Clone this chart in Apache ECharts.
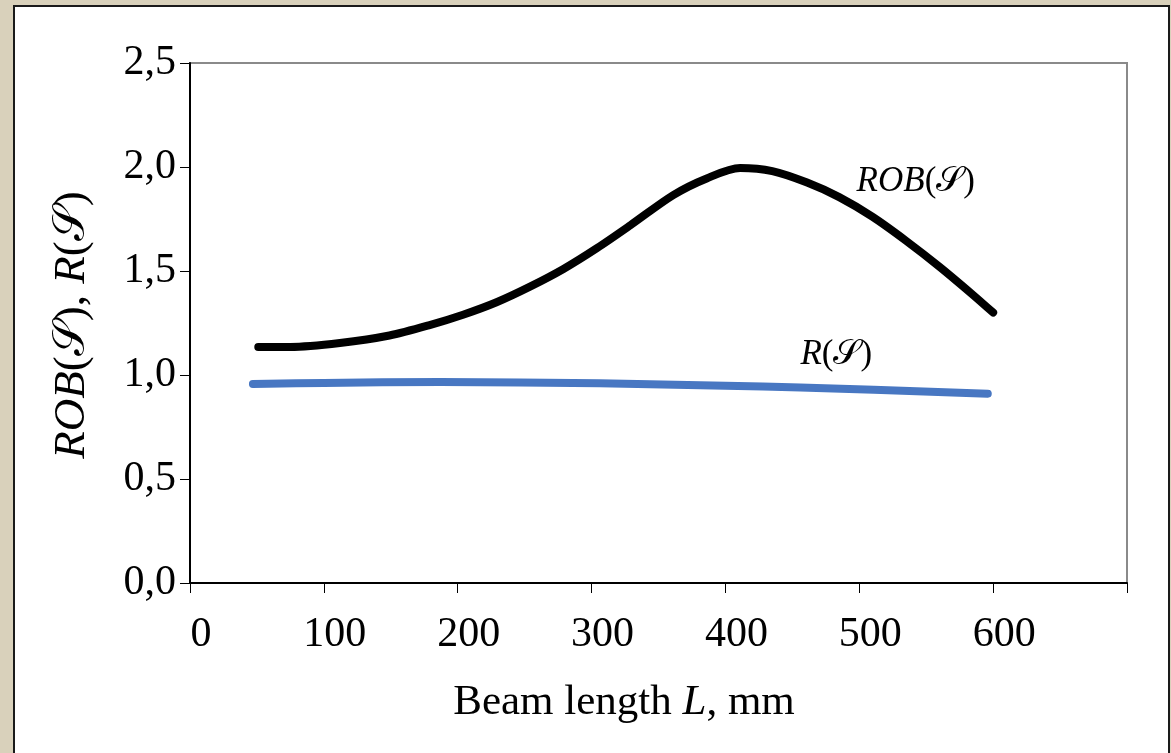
<!DOCTYPE html>
<html>
<head>
<meta charset="utf-8">
<script src="https://cdn.jsdelivr.net/npm/echarts@6/dist/echarts.min.js"></script>
<style>
html, body { margin: 0; padding: 0; background: #D9D1BB; }
#chartmain { width: 1171px; height: 753px; }
</style>
</head>
<body>
<div id="chartmain"></div>
<script>
// beam length L, mm
var robLength = [51, 75, 112, 149, 179, 204, 229, 254, 279, 304, 329, 361, 386, 411, 435, 461, 485, 510, 535, 560, 585, 600];
var robValues = [1.135, 1.135, 1.154, 1.19, 1.24, 1.29, 1.35, 1.425, 1.51, 1.61, 1.72, 1.865, 1.945, 1.995, 1.98, 1.925, 1.855, 1.76, 1.645, 1.52, 1.385, 1.30];
var rLength = [47, 100, 187, 306, 400, 456, 596];
var rValues = [0.957, 0.962, 0.966, 0.96, 0.948, 0.94, 0.91];
var xTicks = [0, 100, 200, 300, 400, 500, 600, 700];
var yTicks = [0, 0.5, 1.0, 1.5, 2.0, 2.5];

var SCRIPT_S = '\uD835\uDCAE';
var FONT = "'Liberation Serif', 'Times New Roman', serif";

function pairs(xs, ys) {
	var out = [];
	for (var i = 0; i < xs.length; i++) out.push([xs[i], ys[i]]);
	return out;
}

var option = {
	backgroundColor : 'transparent',
	animation : false,
	grid : {
		left : 190,
		top : 63,
		right : 44,
		bottom : 170,
		show : true,
		borderColor : '#8a8a8a',
		borderWidth : 2,
		backgroundColor : '#fff'
	},
	xAxis : {
		type : 'value',
		min : xTicks[0],
		max : xTicks[xTicks.length - 1],
		interval : 100,
		axisLine : { lineStyle : { color : '#000', width : 2 } },
		axisTick : { length : 10, lineStyle : { color : '#000', width : 1 } },
		splitLine : { show : false },
		axisLabel : {
			margin : 31,
			padding : [0, 0, 0, 22],
			color : '#000',
			fontFamily : FONT,
			fontSize : 42,
			formatter : function(v) { return v === 700 ? '' : String(v); }
		}
	},
	yAxis : {
		type : 'value',
		min : yTicks[0],
		max : yTicks[yTicks.length - 1],
		interval : 0.5,
		axisLine : { show : true, lineStyle : { color : '#000', width : 2 } },
		axisTick : { show : true, length : 10, lineStyle : { color : '#000', width : 1 } },
		splitLine : { show : false },
		axisLabel : {
			margin : 14,
			color : '#000',
			fontFamily : FONT,
			fontSize : 42,
			formatter : function(v) { return v.toFixed(1).replace('.', ','); }
		}
	},
	series : [ {
		name : 'ROB',
		type : 'line',
		smooth : 0.3,
		symbol : 'none',
		data : pairs(robLength, robValues),
		lineStyle : { color : '#000', width : 8, cap : 'round', join : 'round' },
		z : 3
	}, {
		name : 'R',
		type : 'line',
		smooth : 0.35,
		symbol : 'none',
		data : pairs(rLength, rValues),
		lineStyle : { color : '#4877C2', width : 8, cap : 'round', join : 'round' },
		z : 2
	} ]
};

var myChart = echarts.init(document.getElementById('chartmain'), null, { renderer : 'canvas' });
myChart.setOption(option);

// curve labels sit at data positions
var robPos = myChart.convertToPixel({ gridIndex : 0 }, [498, 1.93]);
var rPos = myChart.convertToPixel({ gridIndex : 0 }, [456, 1.095]);

var small = { it : { fontFamily : FONT, fontStyle : 'italic', fontSize : 35, fill : '#000' } };
var big = { it : { fontFamily : FONT, fontStyle : 'italic', fontSize : 45, fill : '#000' } };

myChart.setOption({
	graphic : [ {
		type : 'rect',
		z : -10,
		shape : { x : 14, y : 6, width : 1155, height : 780 },
		style : { fill : '#fff', stroke : '#1a1a1a', lineWidth : 2 },
		silent : true
	}, {
		type : 'text',
		x : robPos[0], y : robPos[1],
		style : {
			text : '{it|ROB}(' + SCRIPT_S + ')',
			font : '35px ' + FONT,
			fill : '#000',
			verticalAlign : 'middle',
			rich : small
		}
	}, {
		type : 'text',
		x : rPos[0], y : rPos[1],
		style : {
			text : '{it|R}(' + SCRIPT_S + ')',
			font : '35px ' + FONT,
			fill : '#000',
			verticalAlign : 'middle',
			rich : small
		}
	}, {
		type : 'text',
		x : 624, y : 703,
		style : {
			text : 'Beam length {it|L}, mm',
			font : '43px ' + FONT,
			fill : '#000',
			align : 'center',
			verticalAlign : 'middle',
			rich : { it : { fontFamily : FONT, fontStyle : 'italic', fontSize : 43, fill : '#000' } }
		}
	}, {
		type : 'text',
		x : 72, y : 325,
		rotation : Math.PI / 2,
		style : {
			text : '{it|ROB}(' + SCRIPT_S + '), {it|R}(' + SCRIPT_S + ')',
			font : '45px ' + FONT,
			fill : '#000',
			align : 'center',
			verticalAlign : 'middle',
			rich : big
		}
	} ]
});
</script>
</body>
</html>
